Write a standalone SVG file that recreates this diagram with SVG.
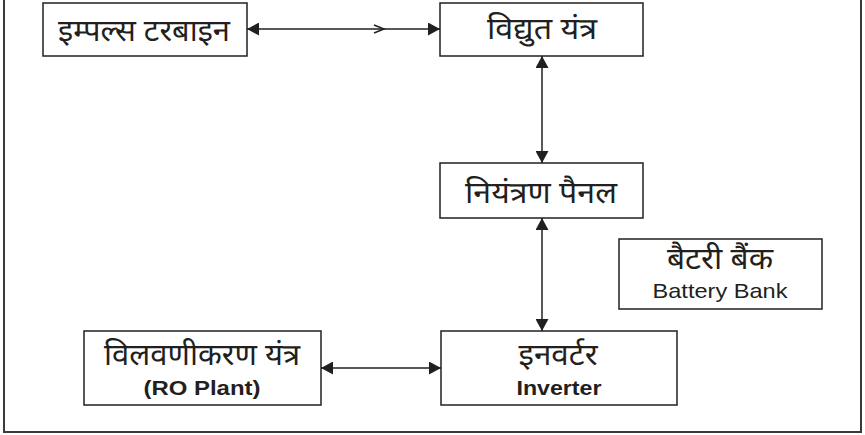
<svg xmlns="http://www.w3.org/2000/svg" width="865" height="435" viewBox="0 0 865 435">
<style>
.box{fill:#fff;stroke:#231f20;stroke-width:1.5}
.frame{fill:none;stroke:#3a3a3a;stroke-width:2}
.hi{font-family:"Noto Sans Devanagari","Lohit Devanagari","Mukta","FreeSans","Noto Sans",sans-serif;font-size:30px;fill:#231f20;text-anchor:middle}
.en{font-family:"Liberation Sans",Arial,sans-serif;font-size:21px;fill:#231f20;text-anchor:middle}
.b{font-weight:bold}
.conn{stroke:#231f20;stroke-width:1.5;fill:none}
</style>
<defs>
<marker id="ah" viewBox="0 0 12 13" refX="12" refY="6.5" markerWidth="12" markerHeight="13" markerUnits="userSpaceOnUse" orient="auto-start-reverse">
<path d="M0,0 L12,6.5 L0,13 Z" fill="#231f20"/>
</marker>
</defs>
<rect class="frame" x="4" y="-5" width="857" height="437"/>
<g id="connectors">
<line class="conn" x1="247" y1="29" x2="440" y2="29" marker-start="url(#ah)" marker-end="url(#ah)"/>
<polyline class="conn" points="374,25 384,29 374,33"/>
<line class="conn" x1="542" y1="56" x2="542" y2="163" marker-start="url(#ah)" marker-end="url(#ah)"/>
<line class="conn" x1="542" y1="218" x2="542" y2="331" marker-start="url(#ah)" marker-end="url(#ah)"/>
<line class="conn" x1="321" y1="368" x2="441" y2="368" marker-start="url(#ah)" marker-end="url(#ah)"/>
</g>
<g id="impulse-turbine">
<rect class="box" x="43" y="3" width="204" height="53"/>
<text class="hi" x="144" y="41" textLength="172" lengthAdjust="spacingAndGlyphs">इम्पल्स टरबाइन</text>
</g>
<g id="vidyut-yantra">
<rect class="box" x="440" y="3" width="203" height="53"/>
<text class="hi" x="542" y="39" textLength="110" lengthAdjust="spacingAndGlyphs">विद्युत यंत्र</text>
</g>
<g id="niyantran-panel">
<rect class="box" x="440" y="163" width="203" height="55"/>
<text class="hi" x="541" y="203" textLength="152" lengthAdjust="spacingAndGlyphs">नियंत्रण पैनल</text>
</g>
<g id="battery-bank">
<rect class="box" x="619" y="239" width="203" height="70"/>
<text class="hi" x="720" y="269" textLength="106" lengthAdjust="spacingAndGlyphs">बैटरी बैंक</text>
<text class="en" x="720" y="298" textLength="135" lengthAdjust="spacingAndGlyphs">Battery Bank</text>
</g>
<g id="ro-plant">
<rect class="box" x="84" y="331" width="237" height="74"/>
<text class="hi" x="202" y="365" textLength="196" lengthAdjust="spacingAndGlyphs">विलवणीकरण यंत्र</text>
<text class="en b" x="202" y="395" textLength="117" lengthAdjust="spacingAndGlyphs">(RO Plant)</text>
</g>
<g id="inverter">
<rect class="box" x="441" y="331" width="236" height="74"/>
<text class="hi" x="558" y="365" textLength="79" lengthAdjust="spacingAndGlyphs">इनवर्टर</text>
<text class="en b" x="559" y="395" textLength="85" lengthAdjust="spacingAndGlyphs">Inverter</text>
</g>
</svg>
